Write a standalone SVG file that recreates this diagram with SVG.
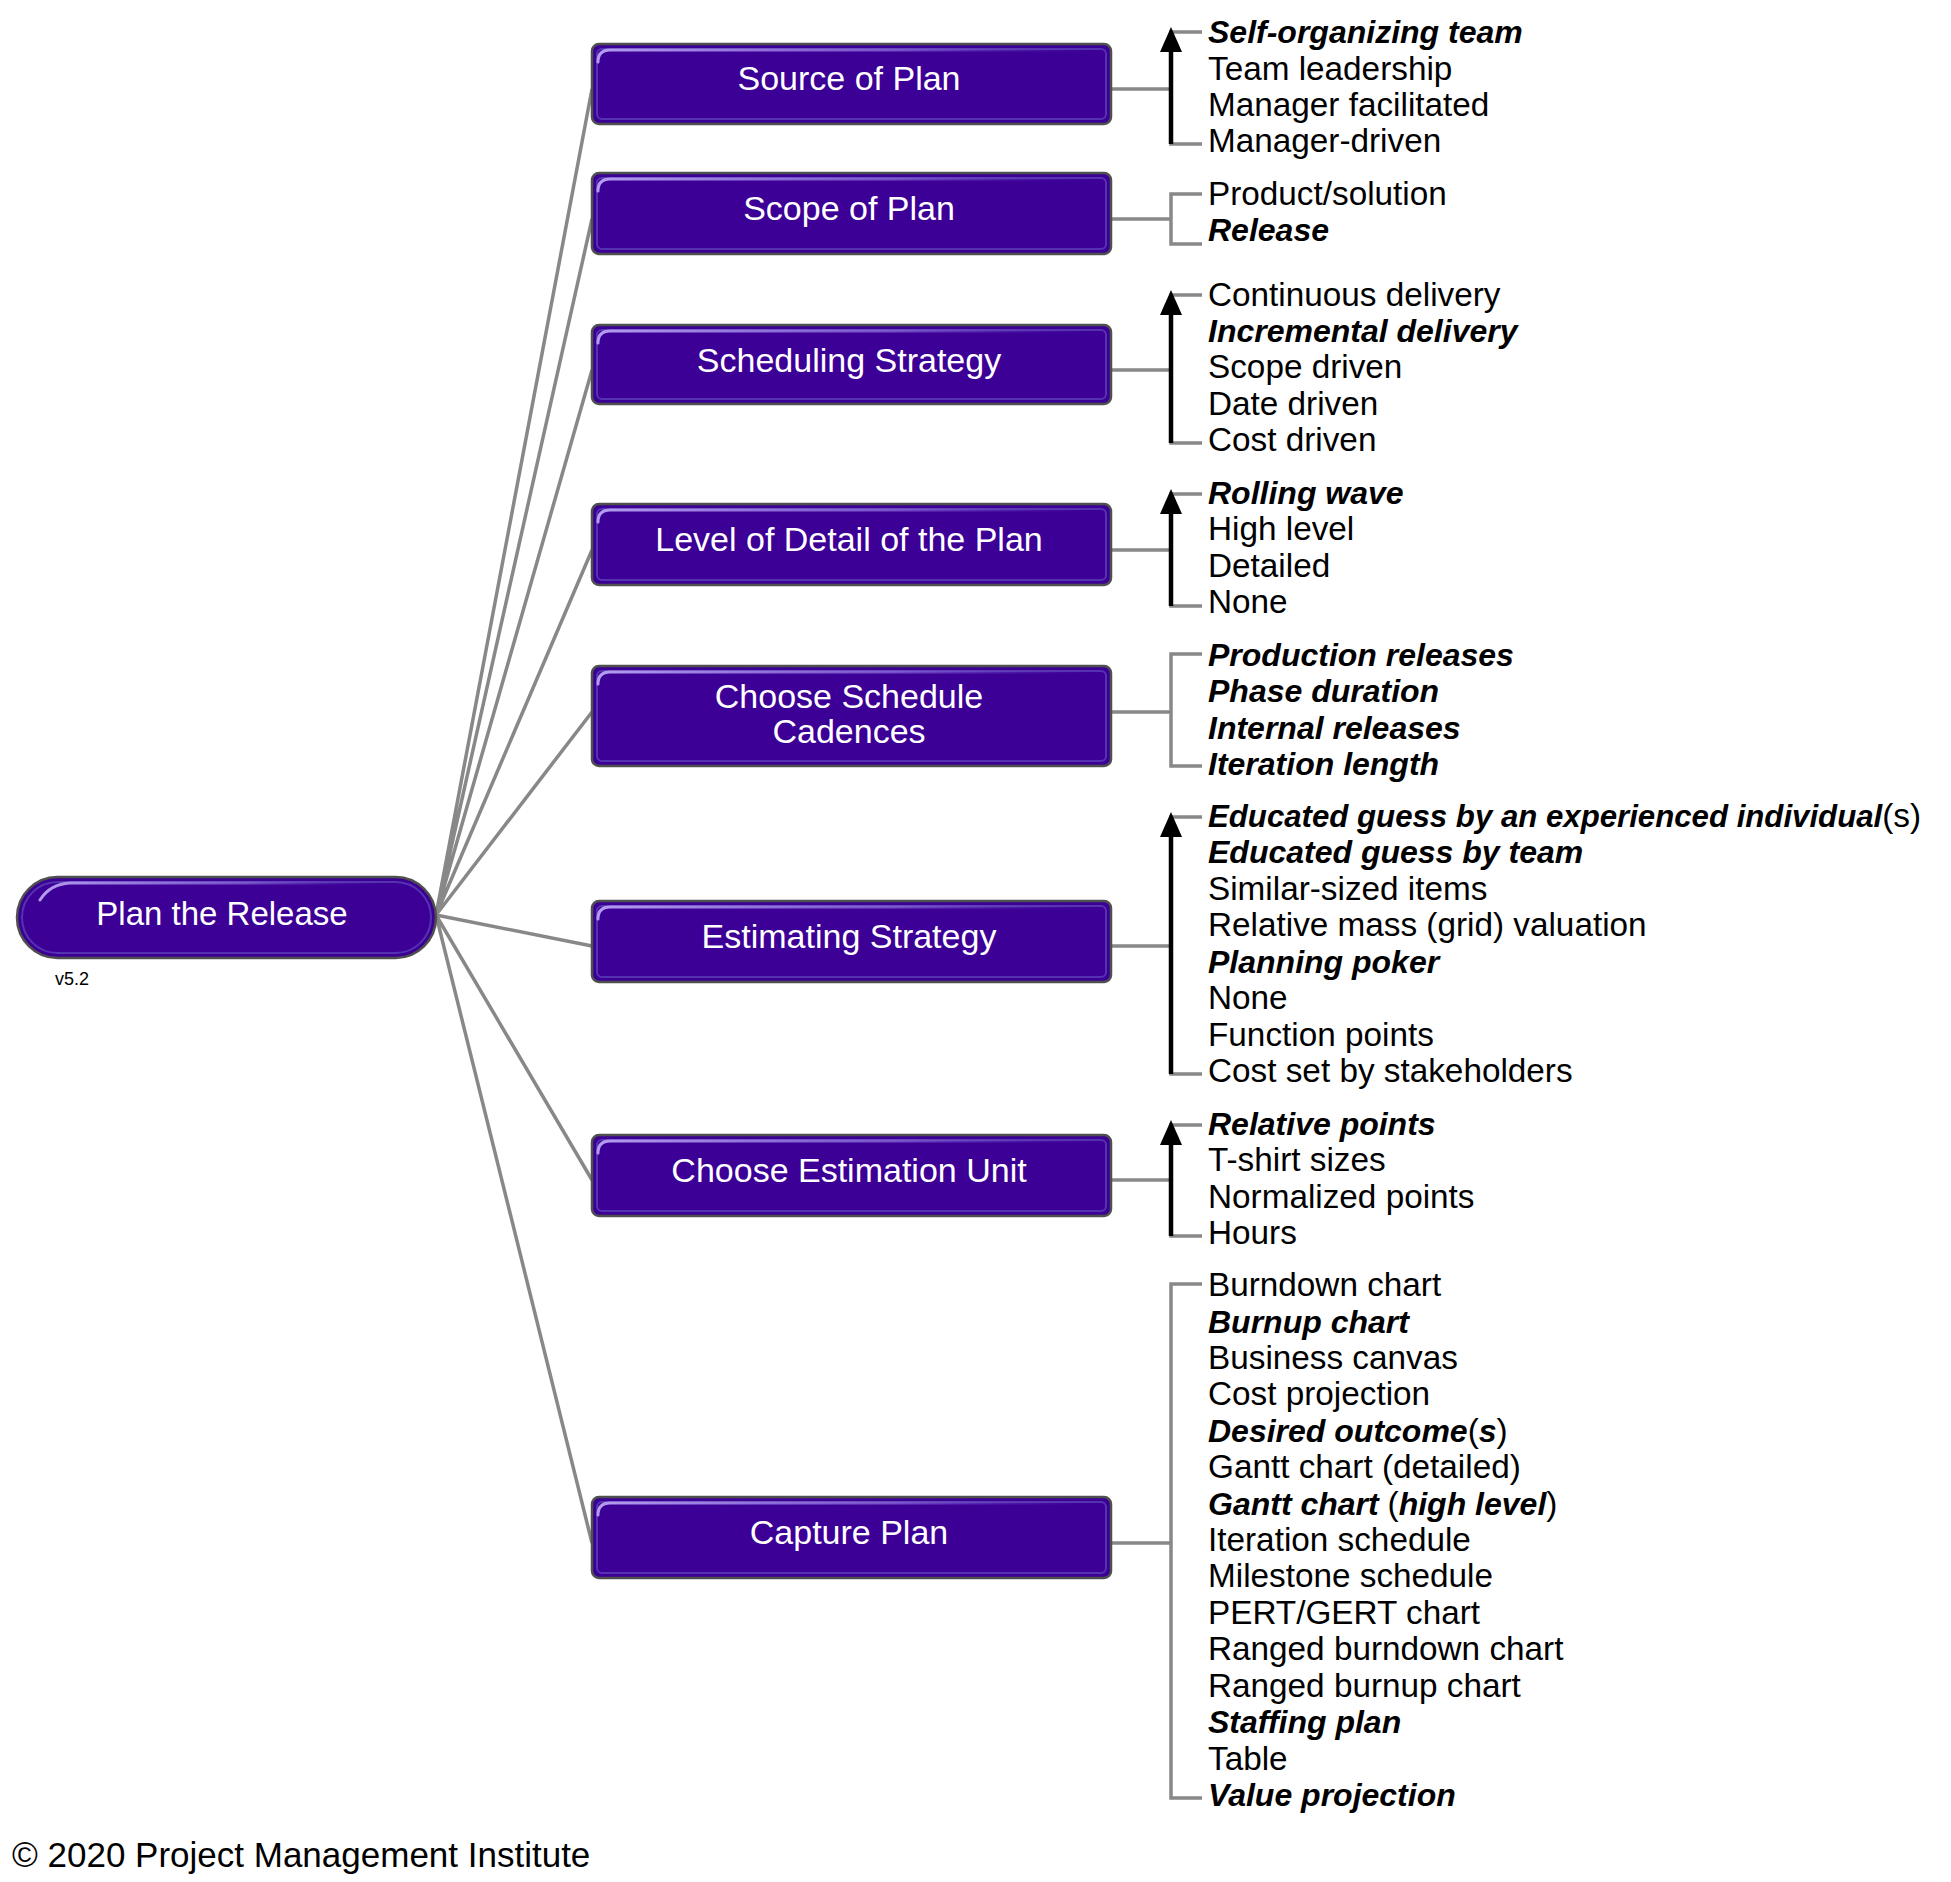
<svg xmlns="http://www.w3.org/2000/svg" width="1951" height="1882" viewBox="0 0 1951 1882">
<defs>
<linearGradient id="hlg" x1="0" y1="0" x2="1" y2="0">
<stop offset="0" stop-color="#b49df0" stop-opacity="1"/>
<stop offset="0.6" stop-color="#8e6fdc" stop-opacity="0.7"/>
<stop offset="1" stop-color="#6a48c8" stop-opacity="0"/>
</linearGradient>
<style>
.box{fill:#3c0096;stroke:#4f4f4f;stroke-width:2.5}
.inner{fill:none;stroke:#5533b0;stroke-width:2}
.hl{fill:none;stroke:url(#hlg);stroke-width:3;stroke-linecap:round}
.lbl{font-family:"Liberation Sans",Arial,sans-serif;font-size:34px;fill:#ffffff;text-anchor:middle}
.conn{fill:none;stroke:#888888;stroke-width:3.5}
.br{fill:none;stroke:#888888;stroke-width:3.5}
.arr{fill:none;stroke:#000;stroke-width:4.5}
.it{font-family:"Liberation Sans",Arial,sans-serif;font-size:33.3px;fill:#000}
.b{font-weight:bold;font-style:italic;font-size:32px}
</style>
</defs>
<rect width="1951" height="1882" fill="#ffffff"/>

<g id="connectors">
<path class="conn" d="M436,915 L592,89 M436,915 L592,219 M436,915 L592,370 M436,915 L592,550 M436,915 L592,712 M436,915 L592,946 M436,915 L592,1180 M436,915 L592,1543"/>
<path class="br" d="M1111,89 H1171 M1202,32 H1171 V144 H1202"/>
<path class="br" d="M1111,219 H1171 M1202,194 H1171 V244 H1202"/>
<path class="br" d="M1111,370 H1171 M1202,295 H1171 V443 H1202"/>
<path class="br" d="M1111,550 H1171 M1202,494 H1171 V606 H1202"/>
<path class="br" d="M1111,712 H1171 M1202,654 H1171 V766 H1202"/>
<path class="br" d="M1111,946 H1171 M1202,817 H1171 V1074 H1202"/>
<path class="br" d="M1111,1180 H1171 M1202,1125 H1171 V1236 H1202"/>
<path class="br" d="M1111,1543 H1171 M1202,1284 H1171 V1798 H1202"/>
<g id="arrows">
<path class="arr" d="M1171,144 V48"/><polygon points="1171,27 1160,52 1182,52" fill="#000"/>
<path class="arr" d="M1171,443 V311"/><polygon points="1171,290 1160,315 1182,315" fill="#000"/>
<path class="arr" d="M1171,606 V510"/><polygon points="1171,489 1160,514 1182,514" fill="#000"/>
<path class="arr" d="M1171,1074 V833"/><polygon points="1171,812 1160,837 1182,837" fill="#000"/>
<path class="arr" d="M1171,1236 V1141"/><polygon points="1171,1120 1160,1145 1182,1145" fill="#000"/>
</g>
</g>

<g id="root">
<rect class="box" x="17" y="877" width="419" height="81" rx="40.5"/>
<rect class="inner" x="22" y="882" width="409" height="71" rx="35.5"/>
<path class="hl" d="M40,900 Q50,884 70,883 H380"/>
<text class="lbl" x="222" y="925" style="font-size:33px">Plan the Release</text>
<text x="55" y="985" font-family="'Liberation Sans',Arial,sans-serif" font-size="18" fill="#000">v5.2</text>
</g>

<g id="n1">
<rect class="box" x="592" y="44" width="519" height="80" rx="7"/>
<rect class="inner" x="597" y="49" width="509" height="70" rx="5"/>
<path class="hl" d="M598,62 Q598,50 610,50 H1090"/>
<text class="lbl" x="849" y="90">Source of Plan</text>
<g class="it"><text x="1208" y="43"><tspan class="b">Self-organizing team</tspan></text>
<text x="1208" y="79.5">Team leadership</text>
<text x="1208" y="116">Manager facilitated</text>
<text x="1208" y="152">Manager-driven</text></g>
</g>

<g id="n2">
<rect class="box" x="592" y="173" width="519" height="81" rx="7"/>
<rect class="inner" x="597" y="178" width="509" height="71" rx="5"/>
<path class="hl" d="M598,191 Q598,179 610,179 H1090"/>
<text class="lbl" x="849" y="220">Scope of Plan</text>
<g class="it"><text x="1208" y="205">Product/solution</text>
<text x="1208" y="241" class="b">Release</text></g>
</g>

<g id="n3">
<rect class="box" x="592" y="325" width="519" height="79" rx="7"/>
<rect class="inner" x="597" y="330" width="509" height="69" rx="5"/>
<path class="hl" d="M598,343 Q598,331 610,331 H1090"/>
<text class="lbl" x="849" y="372">Scheduling Strategy</text>
<g class="it"><text x="1208" y="306">Continuous delivery</text>
<text x="1208" y="342" class="b">Incremental delivery</text>
<text x="1208" y="378">Scope driven</text>
<text x="1208" y="415">Date driven</text>
<text x="1208" y="451">Cost driven</text></g>
</g>

<g id="n4">
<rect class="box" x="592" y="504" width="519" height="81" rx="7"/>
<rect class="inner" x="597" y="509" width="509" height="71" rx="5"/>
<path class="hl" d="M598,522 Q598,510 610,510 H1090"/>
<text class="lbl" x="849" y="551">Level of Detail of the Plan</text>
<g class="it"><text x="1208" y="504" class="b">Rolling wave</text>
<text x="1208" y="540">High level</text>
<text x="1208" y="577">Detailed</text>
<text x="1208" y="613">None</text></g>
</g>

<g id="n5">
<rect class="box" x="592" y="666" width="519" height="100" rx="7"/>
<rect class="inner" x="597" y="671" width="509" height="90" rx="5"/>
<path class="hl" d="M598,684 Q598,672 610,672 H1090"/>
<text class="lbl" x="849" y="708">Choose Schedule</text>
<text class="lbl" x="849" y="743">Cadences</text>
<g class="it"><text x="1208" y="665.5" class="b">Production releases</text>
<text x="1208" y="702" class="b">Phase duration</text>
<text x="1208" y="738.5" class="b">Internal releases</text>
<text x="1208" y="775" class="b">Iteration length</text></g>
</g>

<g id="n6">
<rect class="box" x="592" y="901" width="519" height="81" rx="7"/>
<rect class="inner" x="597" y="906" width="509" height="71" rx="5"/>
<path class="hl" d="M598,919 Q598,907 610,907 H1090"/>
<text class="lbl" x="849" y="948">Estimating Strategy</text>
<g class="it"><text x="1208" y="827"><tspan class="b" style="font-size:31.2px">Educated guess by an experienced individual</tspan>(s)</text>
<text x="1208" y="863" class="b">Educated guess by team</text>
<text x="1208" y="900">Similar-sized items</text>
<text x="1208" y="936">Relative mass (grid) valuation</text>
<text x="1208" y="973" class="b">Planning poker</text>
<text x="1208" y="1009">None</text>
<text x="1208" y="1046">Function points</text>
<text x="1208" y="1082">Cost set by stakeholders</text></g>
</g>

<g id="n7">
<rect class="box" x="592" y="1135" width="519" height="81" rx="7"/>
<rect class="inner" x="597" y="1140" width="509" height="71" rx="5"/>
<path class="hl" d="M598,1153 Q598,1141 610,1141 H1090"/>
<text class="lbl" x="849" y="1182">Choose Estimation Unit</text>
<g class="it"><text x="1208" y="1135" class="b">Relative points</text>
<text x="1208" y="1171">T-shirt sizes</text>
<text x="1208" y="1208">Normalized points</text>
<text x="1208" y="1244">Hours</text></g>
</g>

<g id="n8">
<rect class="box" x="592" y="1497" width="519" height="81" rx="7"/>
<rect class="inner" x="597" y="1502" width="509" height="71" rx="5"/>
<path class="hl" d="M598,1515 Q598,1503 610,1503 H1090"/>
<text class="lbl" x="849" y="1544">Capture Plan</text>
<g class="it"><text x="1208" y="1296">Burndown chart</text>
<text x="1208" y="1332.5" class="b">Burnup chart</text>
<text x="1208" y="1369">Business canvas</text>
<text x="1208" y="1405">Cost projection</text>
<text x="1208" y="1442"><tspan class="b">Desired outcome</tspan>(<tspan class="b">s</tspan>)</text>
<text x="1208" y="1478">Gantt chart (detailed)</text>
<text x="1208" y="1515"><tspan class="b">Gantt chart </tspan>(<tspan class="b">high level</tspan>)</text>
<text x="1208" y="1551">Iteration schedule</text>
<text x="1208" y="1587">Milestone schedule</text>
<text x="1208" y="1624">PERT/GERT chart</text>
<text x="1208" y="1660">Ranged burndown chart</text>
<text x="1208" y="1697">Ranged burnup chart</text>
<text x="1208" y="1733" class="b">Staffing plan</text>
<text x="1208" y="1770">Table</text>
<text x="1208" y="1806" class="b">Value projection</text></g>
</g>

<text x="12" y="1867" font-family="'Liberation Sans',Arial,sans-serif" font-size="35" fill="#000">© 2020 Project Management Institute</text>
</svg>
